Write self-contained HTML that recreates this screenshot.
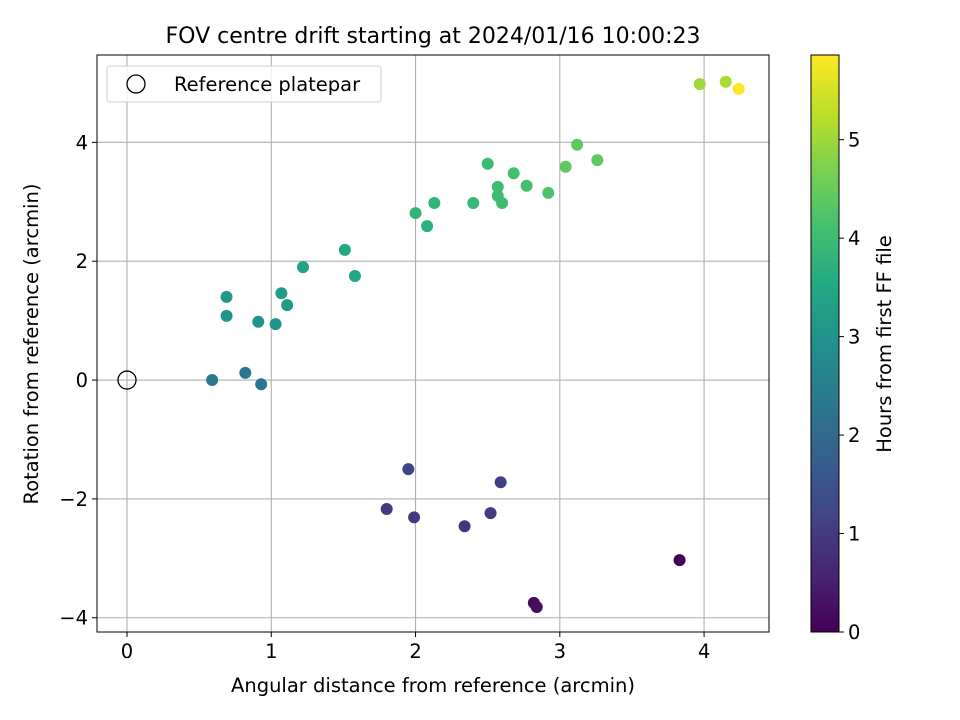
<!DOCTYPE html>
<html><head><meta charset="utf-8"><style>
body{margin:0;background:#fff}
svg{display:block;font-family:"DejaVu Sans","Liberation Sans",sans-serif}
</style></head><body>
<svg id="chart" width="960" height="720" viewBox="0 0 960 720" xmlns="http://www.w3.org/2000/svg">
<defs>
<linearGradient id="vir" x1="0" y1="1" x2="0" y2="0">
<stop offset="0" stop-color="#440154"/><stop offset="0.1" stop-color="#482475"/><stop offset="0.2" stop-color="#414487"/><stop offset="0.3" stop-color="#355f8d"/><stop offset="0.4" stop-color="#2a788e"/><stop offset="0.5" stop-color="#21918c"/><stop offset="0.6" stop-color="#22a884"/><stop offset="0.7" stop-color="#44bf70"/><stop offset="0.8" stop-color="#7ad151"/><stop offset="0.9" stop-color="#bddf26"/><stop offset="1" stop-color="#fde725"/>
</linearGradient>
</defs>
<text x="433" y="43" text-anchor="middle" style="font-size:22px">FOV centre drift starting at 2024/01/16 10:00:23</text>
<g id="grid"></g>
<g id="points"></g>
<rect x="97" y="55" width="672" height="577" fill="none" stroke="#000" stroke-width="1"/>
<g id="ticks"></g>
<text x="433" y="692" text-anchor="middle" style="font-size:19.5px">Angular distance from reference (arcmin)</text>
<text transform="translate(38,344) rotate(-90)" text-anchor="middle" style="font-size:19.5px">Rotation from reference (arcmin)</text>
<g>
<rect x="107" y="66" width="274" height="36" rx="3" fill="#fff" fill-opacity="0.8" stroke="#ccc"/>
<circle cx="136" cy="84" r="9" fill="none" stroke="#000" stroke-width="1.3"/>
<text x="174" y="91" style="font-size:19.5px">Reference platepar</text>
</g>
<rect x="811" y="55" width="28" height="577" fill="url(#vir)" stroke="#000" stroke-width="1"/>
<g id="cticks"></g>
<text transform="translate(891,344) rotate(-90)" text-anchor="middle" style="font-size:19.5px">Hours from first FF file</text>
</svg>
<script>
const xs=[3.97,4.15,4.24,3.12,3.26,3.04,2.50,2.68,2.57,2.77,2.57,2.60,2.92,2.40,2.13,2.00,2.08,1.51,1.58,1.22,1.07,1.11,0.69,0.69,0.91,1.03,0.59,0.82,0.93,1.95,2.59,1.80,1.99,2.52,2.34,3.83,2.82,2.84];
const ys=[4.98,5.02,4.90,3.96,3.70,3.59,3.64,3.48,3.25,3.27,3.10,2.98,3.15,2.98,2.98,2.81,2.59,2.19,1.75,1.90,1.46,1.26,1.40,1.08,0.98,0.94,0.0,0.12,-0.07,-1.50,-1.72,-2.17,-2.31,-2.24,-2.46,-3.03,-3.75,-3.82];
const hours=[5.0,5.1,5.85,4.4,4.4,4.4,4.0,4.1,4.0,4.1,4.0,4.0,4.2,3.9,3.8,3.8,3.7,3.5,3.5,3.4,3.2,3.2,3.1,3.0,3.0,3.0,2.4,2.3,2.3,1.2,1.1,1.0,1.0,1.0,0.9,0.0,0.2,0.2];
const xTicks=[0,1,2,3,4];
const yTicks=[-4,-2,0,2,4];
const cTicks=[0,1,2,3,4,5];
const X0=-0.208,X1=4.45,Y0=-4.24,Y1=5.47,H1=5.86;
const sx=v=>97+(v-X0)/(X1-X0)*672;
const sy=v=>632-(v-Y0)/(Y1-Y0)*577;
const sc=v=>632-v/H1*577;
const NS="http://www.w3.org/2000/svg";
const vir=[[68,1,84],[72,36,117],[65,68,135],[53,95,141],[42,120,142],[33,145,140],[34,168,132],[68,191,112],[122,209,81],[189,223,38],[253,231,37]];
function col(t){t=Math.max(0,Math.min(1,t))*10;const i=Math.min(9,Math.floor(t)),f=t-i;const a=vir[i],b=vir[i+1];return `rgb(${a.map((c,k)=>Math.round(c+(b[k]-c)*f)).join(',')})`;}
function mk(tag,attrs,parent){const e=document.createElementNS(NS,tag);for(const k in attrs)e.setAttribute(k,attrs[k]);parent.appendChild(e);return e;}
const grid=document.getElementById('grid'),ticks=document.getElementById('ticks'),pts=document.getElementById('points'),ct=document.getElementById('cticks');
const FS='font-size:19.5px';
xTicks.forEach(v=>{const x=sx(v);
const g=mk('line',{x1:x,x2:x,y1:55,y2:632,stroke:'#b0b0b0','stroke-width':1.1},grid);


mk('line',{x1:x,x2:x,y1:632,y2:637,stroke:'#000'},ticks);
const t=mk('text',{x:x,y:658,'text-anchor':'middle',style:FS},ticks);t.textContent=v;

});
yTicks.forEach(v=>{const y=sy(v);
const g=mk('line',{x1:97,x2:769,y1:y,y2:y,stroke:'#b0b0b0','stroke-width':1.1},grid);


mk('line',{x1:92,x2:97,y1:y,y2:y,stroke:'#000'},ticks);
const t=mk('text',{x:88,y:y+7,'text-anchor':'end',style:FS},ticks);t.textContent=v<0?'\u2212'+(-v):v;

});
xs.forEach((v,i)=>{const c=mk('circle',{cx:sx(v),cy:sy(ys[i]),r:6,fill:col(hours[i]/H1)},pts);

});
const rm=mk('circle',{cx:sx(0),cy:sy(0),r:9,fill:'none',stroke:'#000','stroke-width':1.3},pts);


cTicks.forEach(v=>{const y=sc(v);
mk('line',{x1:839,x2:844,y1:y,y2:y,stroke:'#000'},ct);
const t=mk('text',{x:848,y:y+7,style:FS},ct);t.textContent=v;

});
</script>
</body></html>
